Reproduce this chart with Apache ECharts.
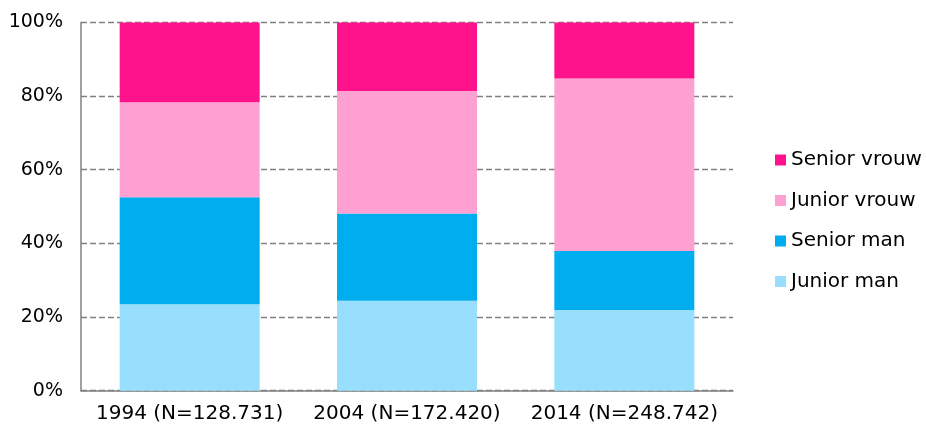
<!DOCTYPE html>
<html>
<head>
<meta charset="utf-8">
<script src="https://cdn.jsdelivr.net/npm/echarts@6/dist/echarts.min.js"></script>
<style>html,body{margin:0;padding:0;background:#fff;}#c{width:926px;height:426px;}</style>
</head>
<body>
<div id="c"></div>
<script>
const categories = ['1994 (N=128.731)', '2004 (N=172.420)', '2014 (N=248.742)'];
const juniorMan = [23.5, 24.4, 21.9];
const seniorMan = [29.0, 23.7, 16.0];
const juniorVrouw = [25.8, 33.3, 46.9];
const seniorVrouw = [21.7, 18.6, 15.2];
const yTicks = [0, 20, 40, 60, 80, 100];

const font = 'DejaVu Sans';
const chart = echarts.init(document.getElementById('c'), null, {renderer: 'canvas'});
function s(name, data, color) {
  return {name, type: 'bar', stack: 'all', data, barWidth: 140,
    itemStyle: {color}, emphasis: {disabled: true}, animation: false};
}
chart.setOption({
  animation: false,
  grid: {left: 81, right: 193, top: 22.4, bottom: 35.3},
  legend: {
    orient: 'vertical', left: 770, top: 145,
    data: ['Senior vrouw', 'Junior vrouw', 'Senior man', 'Junior man'],
    icon: 'rect', itemWidth: 11, itemHeight: 11, itemGap: 20.5,
    textStyle: {fontFamily: font, fontSize: 20, color: '#000', lineHeight: 20, padding: [0,0,0,0]}
  },
  xAxis: {
    type: 'category', data: categories,
    axisLine: {lineStyle: {color: '#808080', width: 1.5}},
    axisTick: {show: false},
    axisLabel: {fontFamily: font, fontSize: 20, color: '#000', margin: 13, interval: 0}
  },
  yAxis: {
    type: 'value', min: 0, max: 100, interval: 20,
    axisLine: {show: true, lineStyle: {color: '#808080', width: 1.5}},
    axisTick: {show: false},
    axisLabel: {fontFamily: font, fontSize: 19, color: '#000', margin: 18,
      formatter: v => yTicks.includes(v) ? v + '%' : ''},
    splitLine: {lineStyle: {color: '#808080', width: 1.3, type: [6, 3]}}
  },
  series: [
    s('Junior man', juniorMan, '#97DFFD'),
    s('Senior man', seniorMan, '#00AEEF'),
    s('Junior vrouw', juniorVrouw, '#FFA0D2'),
    s('Senior vrouw', seniorVrouw, '#FF138C')
  ]
});
</script>
</body>
</html>
